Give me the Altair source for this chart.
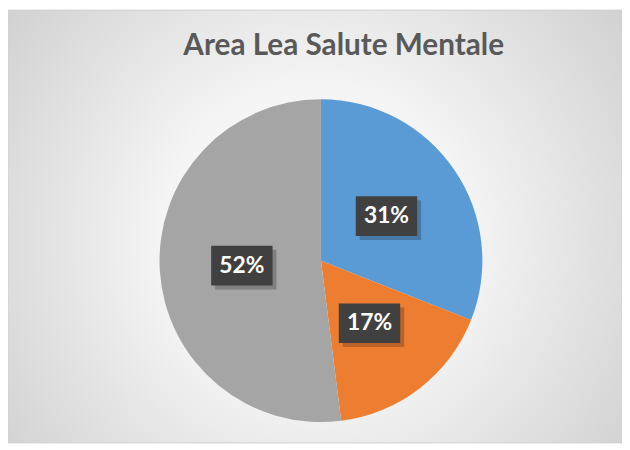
import altair as alt
import pandas as pd

categories = ["A", "B", "C"]
values = [31, 17, 52]
labels = ["31%", "17%", "52%"]
colors = ["#5B9BD5", "#ED7D31", "#A5A5A5"]
title_text = "Area Lea Salute Mentale"

W, H = 620, 437
CX, CY, R = 316, 253, 163
LR = 80
BW, BH = 62, 40

df = pd.DataFrame({"cat": categories, "value": values, "label": labels,
                   "idx": list(range(len(values)))})

bg = alt.Chart(pd.DataFrame({"a": [0]})).mark_rect(
    color=alt.RadialGradient(
        gradient="radial",
        stops=[alt.GradientStop(color="#ffffff", offset=0),
               alt.GradientStop(color="#f4f4f4", offset=0.35),
               alt.GradientStop(color="#c8c8c8", offset=1)],
        x1=0.5, y1=0.52, r1=0, x2=0.5, y2=0.52, r2=0.72),
    stroke="#d0d0d0", strokeWidth=1,
).encode(x=alt.value(0), x2=alt.value(W), y=alt.value(0), y2=alt.value(H))

title = alt.Chart(pd.DataFrame({"t": [title_text]})).mark_text(
    font="Lato", fontWeight="bold", fontSize=30, color="#595959",
    align="center", baseline="alphabetic",
).encode(x=alt.value(339), y=alt.value(45), text="t:N")

pie = alt.Chart(df).mark_arc(radius=R, stroke=None).encode(
    theta=alt.Theta("value:Q", stack=True),
    color=alt.Color("cat:N", scale=alt.Scale(domain=categories, range=colors), legend=None),
    order=alt.Order("idx:Q"),
    x=alt.value(CX), y=alt.value(CY),
)

base = alt.Chart(df).transform_joinaggregate(
    total="sum(value)"
).transform_window(
    cum="sum(value)", sort=[alt.SortField("idx")], frame=[None, 0]
).transform_calculate(
    mid="(datum.cum - datum.value/2) / datum.total * 2 * PI",
).transform_calculate(
    lx=f"{CX} + {LR} * sin(datum.mid)",
    ly=f"{CY} - {LR} * cos(datum.mid)",
).transform_calculate(
    bx1=f"datum.lx - {BW/2}", bx2=f"datum.lx + {BW/2}",
    by1=f"datum.ly - {BH/2}", by2=f"datum.ly + {BH/2}",
    sx1=f"datum.lx - {BW/2} + 4", sx2=f"datum.lx + {BW/2} + 4",
    sy1=f"datum.ly - {BH/2} + 4", sy2=f"datum.ly + {BH/2} + 4",
)

shadow = base.mark_rect(color="#000000", opacity=0.22).encode(
    x=alt.X("sx1:Q", scale=None), x2="sx2:Q",
    y=alt.Y("sy1:Q", scale=None), y2="sy2:Q",
)
box = base.mark_rect(color="#404040").encode(
    x=alt.X("bx1:Q", scale=None), x2="bx2:Q",
    y=alt.Y("by1:Q", scale=None), y2="by2:Q",
)
txt = base.mark_text(font="Lato", fontWeight="bold", fontSize=23, color="#ffffff",
                     align="center", baseline="middle").encode(
    x=alt.X("lx:Q", scale=None), y=alt.Y("ly:Q", scale=None), text="label:N",
)

chart = alt.layer(bg, title, pie, shadow, box, txt).properties(
    width=W, height=H, autosize=alt.AutoSizeParams(type="none"), padding=0,
).configure_view(stroke=None)

chart.save("out.html", embed_options={"renderer": "svg", "actions": False})
